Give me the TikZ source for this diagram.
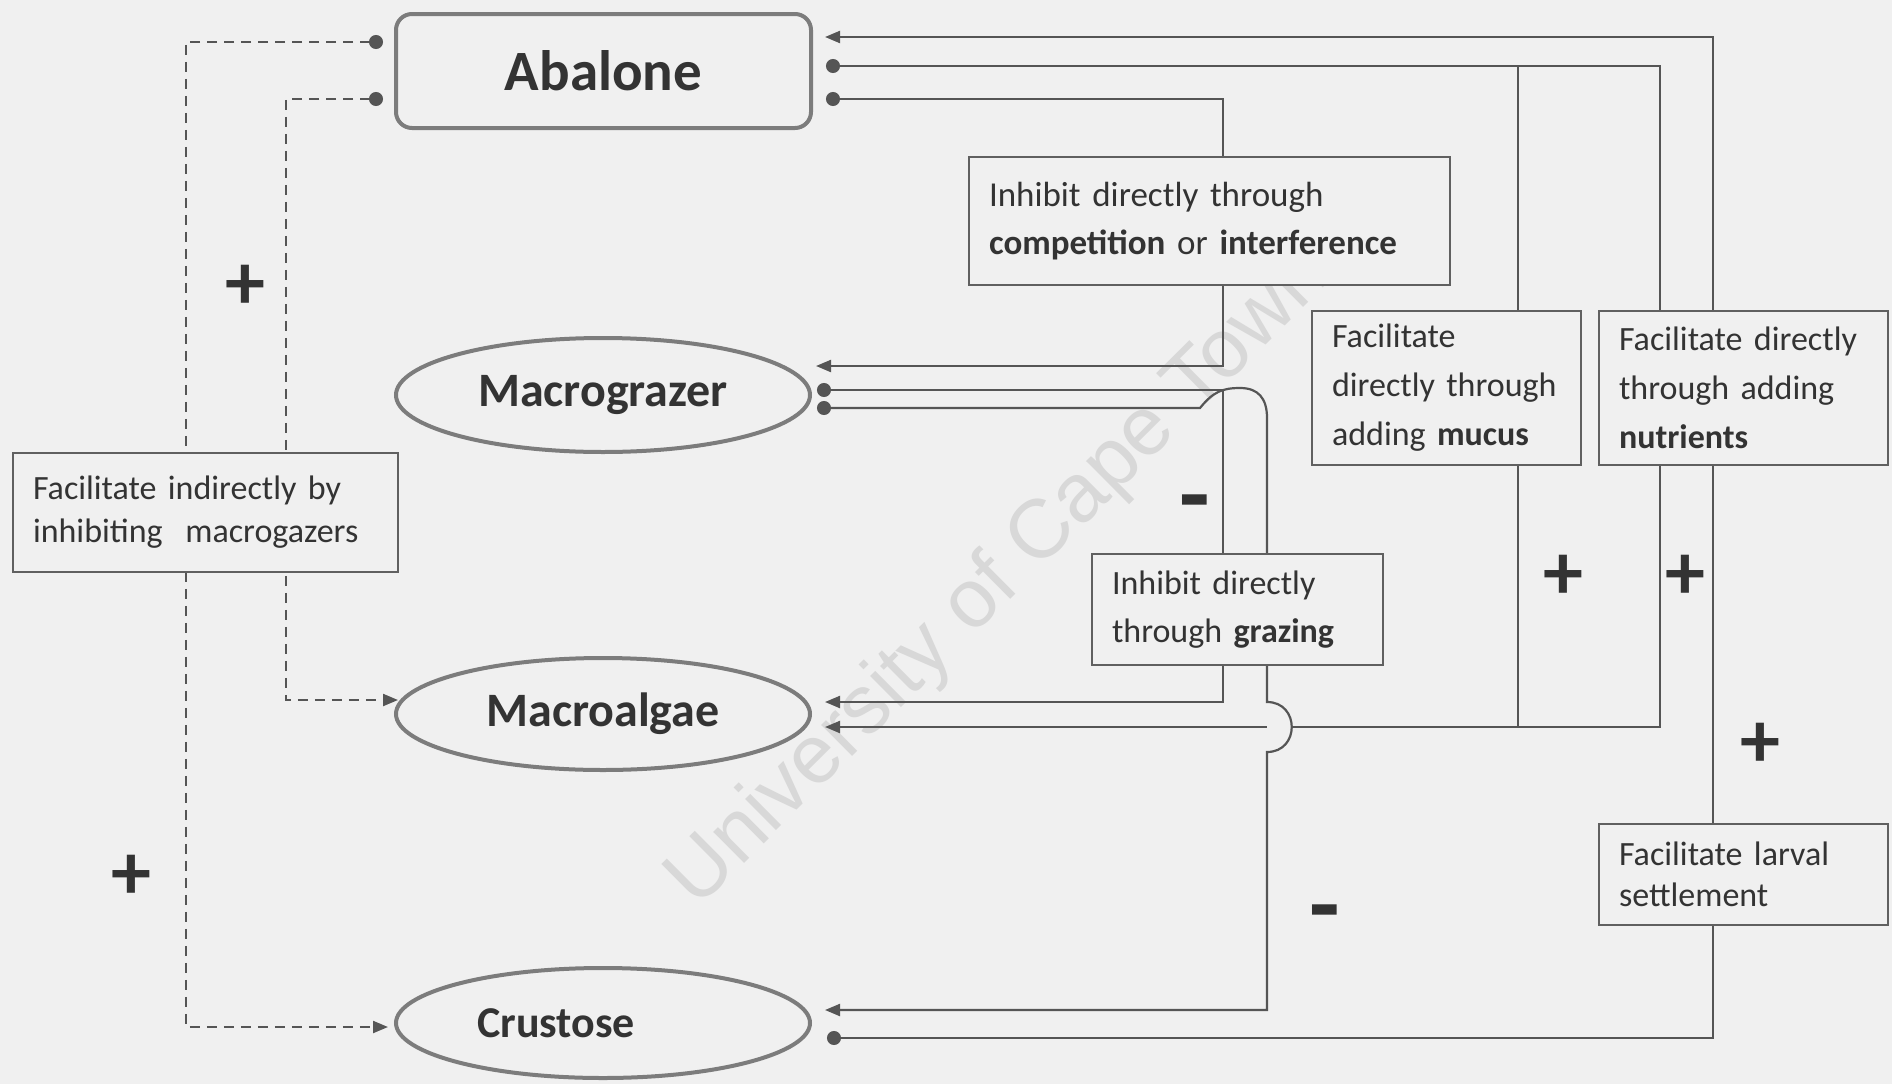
\documentclass[tikz,border=0pt]{standalone}
\usepackage{fontspec}
\setmainfont{Carlito}
\newfontfamily\wmfont{Liberation Sans}
\usetikzlibrary{arrows.meta,shapes.geometric}
\definecolor{bg}{HTML}{F0F0F0}
\definecolor{linec}{HTML}{555555}
\definecolor{bd}{HTML}{7C7C7C}
\definecolor{bx}{HTML}{606060}
\definecolor{txt}{HTML}{333333}
\definecolor{wm}{HTML}{D8D8D8}
\begin{document}
\begin{tikzpicture}[x=1pt,y=-1pt,
  org/.style={draw=bd, line width=4pt, fill=bg, text=txt, inner sep=0pt},
  ellorg/.style={org, ellipse, minimum width=414pt, minimum height=114pt},
  lbl/.style={draw=bx, line width=2pt, fill=bg, text=txt, align=left, inner xsep=20pt, inner ysep=0pt},
  conn/.style={draw=linec, line width=2.2pt},
  tipto/.style={-{Triangle[length=14pt,width=11pt]}},
  dotto/.style={{Circle[length=14pt]}-{Triangle[length=15pt,width=12pt]}},
  dsh/.style={dash pattern=on 10pt off 7pt},
  plussign/.style={text=txt, inner sep=0pt, font=\fontsize{80}{80}\selectfont\bfseries},
  minussign/.style={text=txt, inner sep=0pt, font=\fontsize{100}{100}\selectfont\bfseries}]
\fill[bg] (0,0) rectangle (1892,1084);
\useasboundingbox (0,0) rectangle (1892,1084);

% watermark
\node[text=wm, rotate=44.8, inner sep=0pt, font=\wmfont\fontsize{83}{83}\selectfont] (wmk) at (1000,579) {University of Cape Town};

% organisms
\node[org, rectangle, rounded corners=16pt, minimum width=415pt, minimum height=114pt,
      font=\fontsize{57}{57}\selectfont\bfseries] (ab) at (603.5,71) {Abalone};
\node[ellorg, font=\fontsize{48}{48}\selectfont\bfseries] (mg) at (603,395) {Macrograzer};
\node[ellorg, minimum height=112pt, font=\fontsize{48}{48}\selectfont\bfseries] (ma) at (603,714) {Macroalgae};
\node[ellorg, minimum height=110pt, font=\fontsize{44}{44}\selectfont\bfseries] (cu) at (603,1023) {Crustose\kern94pt\relax};

% ports
\coordinate (abL1) at (383,42);
\coordinate (abL2) at (383,99);
\coordinate (abR0) at (825,37);
\coordinate (abR1) at (826,66);
\coordinate (abR2) at (826,99);
\coordinate (mgR0) at (816,366);
\coordinate (mgR1) at (817,390);
\coordinate (mgR2) at (817,408);
\coordinate (maL0) at (398,700);
\coordinate (maR0) at (825,702);
\coordinate (maR1) at (825,727);
\coordinate (cuL0) at (388,1027);
\coordinate (cuR0) at (825,1010);
\coordinate (cuR1) at (827,1038);
\coordinate (jA) at (1518,66);
\coordinate (jB) at (1518,727);

% left dashed connectors
\draw[conn, dsh, dotto] (abL1) -- (186,42) |- (cuL0);
\draw[conn, dsh, dotto] (abL2) -- (286,99) |- (maL0);

% right connectors
\draw[conn, dotto] (cuR1) -- (1713,1038) |- (abR0);
\draw[conn, dotto] (abR1) -- (1660,66) |- (maR1);
\draw[conn] (jA) -- (jB);
\draw[conn, dotto] (abR2) -- (1223,99) |- (mgR0);
\draw[conn, dotto] (mgR1) -- (1223,390) |- (maR0);
\fill[bg] (1267,702) .. controls (1300,702) and (1300,752) .. (1267,752) -- cycle;
\draw[conn, dotto] (mgR2) -- (1200,408) .. controls (1213,392) and (1222,388) .. (1240,388)
   .. controls (1258,388) and (1267,398) .. (1267,418) -- (1267,702)
   .. controls (1300,702) and (1300,752) .. (1267,752) |- (cuR0);

% labels
\node[lbl, text width=345pt, minimum height=119pt, font=\fontsize{34}{43}\selectfont] (ind) at (205.5,512.5)
  {Facilitate indirectly by\\inhibiting\ \ macrogazers};
\node[lbl, text width=441pt, minimum height=128pt, font=\fontsize{35}{48}\selectfont] (comp) at (1209.5,221)
  {Inhibit directly through\\\textbf{competition} or \textbf{interference}};
\node[lbl, text width=229pt, minimum height=154pt, font=\fontsize{34}{49}\selectfont] (muc) at (1446.5,388)
  {Facilitate\\directly through\\adding \textbf{mucus}};
\node[lbl, text width=249pt, minimum height=154pt, font=\fontsize{34}{49}\selectfont] (nut) at (1743.5,388)
  {Facilitate directly\\through adding\\\textbf{nutrients}};
\node[lbl, text width=251pt, minimum height=111pt, font=\fontsize{34}{48}\selectfont] (graz) at (1237.5,609.5)
  {Inhibit directly\\through \textbf{grazing}};
\node[lbl, text width=249pt, minimum height=101pt, font=\fontsize{34}{41}\selectfont] (larv) at (1743.5,874.5)
  {Facilitate larval\\settlement};

% signs
\node[plussign] (p1) at (245,287) {+};
\node[plussign] (p2) at (131,877) {+};
\node[plussign] (p3) at (1563,577) {+};
\node[plussign] (p4) at (1685,577) {+};
\node[plussign] (p5) at (1760,745) {+};
\node[minussign] (m1) at (1195,512) {-};
\node[minussign] (m2) at (1325,922) {-};
\end{tikzpicture}
\end{document}
